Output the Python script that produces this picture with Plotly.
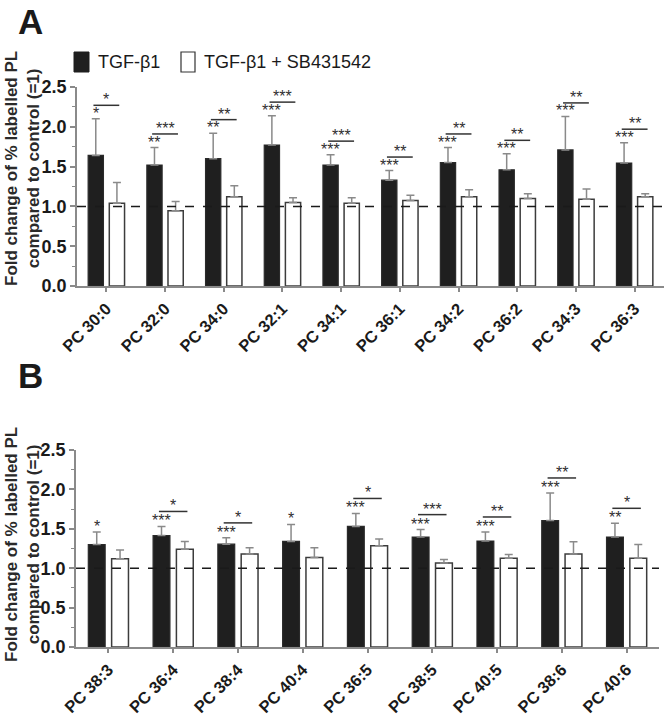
import plotly.graph_objects as go

# ---------------- data ----------------
a_categories = ["PC 30:0", "PC 32:0", "PC 34:0", "PC 32:1", "PC 34:1",
                "PC 36:1", "PC 34:2", "PC 36:2", "PC 34:3", "PC 36:3"]
a_tgf = [1.64, 1.52, 1.60, 1.77, 1.52, 1.33, 1.55, 1.46, 1.71, 1.545]
a_tgf_err = [0.46, 0.22, 0.32, 0.37, 0.13, 0.12, 0.19, 0.20, 0.42, 0.255]
a_sb = [1.04, 0.945, 1.12, 1.05, 1.04, 1.075, 1.12, 1.10, 1.09, 1.12]
a_sb_err = [0.26, 0.115, 0.14, 0.06, 0.07, 0.065, 0.09, 0.06, 0.13, 0.04]
a_sig_tgf = ["*", "**", "**", "***", "***", "***", "***", "***", "***", "***"]
a_sig_pair = ["*", "***", "**", "***", "***", "**", "**", "**", "**", "**"]

b_categories = ["PC 38:3", "PC 36:4", "PC 38:4", "PC 40:4", "PC 36:5",
                "PC 38:5", "PC 40:5", "PC 38:6", "PC 40:6"]
b_tgf = [1.30, 1.415, 1.305, 1.34, 1.53, 1.395, 1.345, 1.605, 1.395]
b_tgf_err = [0.16, 0.115, 0.08, 0.215, 0.165, 0.095, 0.115, 0.35, 0.175]
b_sb = [1.12, 1.24, 1.18, 1.135, 1.285, 1.065, 1.125, 1.18, 1.125]
b_sb_err = [0.11, 0.10, 0.08, 0.125, 0.085, 0.045, 0.05, 0.155, 0.175]
b_sig_tgf = ["*", "***", "***", "*", "***", "***", "***", "***", "**"]
b_sig_pair = ["", "*", "*", "", "*", "***", "**", "**", "*"]

y_ticks = [0.0, 0.5, 1.0, 1.5, 2.0, 2.5]
series_names = ["TGF-β1", "TGF-β1 + SB431542"]
y_title = "Fold change of % labelled PL<br>compared to control (=1)"

# ---------------- style ----------------
FONT = "Liberation Sans, Arial, sans-serif"
W, H = 666, 717
BAR_W = 0.26
OFF_BLACK = -0.31
OFF_WHITE = 0.05
ERR_COLOR = "#8a8a8a"
AXIS_COLOR = "#8a8a8a"
STAR_COLOR = "#303030"

fig = go.Figure()


def px_to_paper_y(py):
    return 1 - py / H


def px_to_paper_x(px):
    return px / W


panels = [
    dict(cats=a_categories, tgf=a_tgf, tgf_err=a_tgf_err, sb=a_sb, sb_err=a_sb_err,
         sig_t=a_sig_tgf, sig_p=a_sig_pair, xa="x", ya="y",
         xdom=[77, 664], ydom=[87, 286], line_off=0.17, title_y=169, letter="A", letter_y=21),
    dict(cats=b_categories, tgf=b_tgf, tgf_err=b_tgf_err, sb=b_sb, sb_err=b_sb_err,
         sig_t=b_sig_tgf, sig_p=b_sig_pair, xa="x2", ya="y2",
         xdom=[76, 659], ydom=[450, 647], line_off=0.19, title_y=545, letter="B", letter_y=375),
]

annotations = []
shapes = []

for i, p in enumerate(panels):
    n = len(p["cats"])
    xs = list(range(n))
    fig.add_trace(go.Bar(
        x=xs, y=p["tgf"], width=BAR_W, offset=OFF_BLACK,
        marker=dict(color="#1f1f1f", line=dict(color="#2a2a2a", width=1.2)),
        error_y=dict(type="data", array=p["tgf_err"], arrayminus=[0] * n, symmetric=False,
                     color=ERR_COLOR, thickness=1.5, width=4),
        xaxis=p["xa"], yaxis=p["ya"], showlegend=False, name=series_names[0]))
    fig.add_trace(go.Bar(
        x=xs, y=p["sb"], width=BAR_W, offset=OFF_WHITE,
        marker=dict(color="white", line=dict(color="#3c3c3c", width=1.5)),
        error_y=dict(type="data", array=p["sb_err"], arrayminus=[0] * n, symmetric=False,
                     color=ERR_COLOR, thickness=1.5, width=4),
        xaxis=p["xa"], yaxis=p["ya"], showlegend=False, name=series_names[1]))

    # dashed reference line at 1
    shapes.append(dict(type="line", xref=p["xa"] + " domain", yref=p["ya"],
                       x0=0, x1=1, y0=1, y1=1, layer="above",
                       line=dict(color="#1a1a1a", width=1.5, dash="dash")))

    cb = OFF_BLACK + BAR_W / 2
    for k in range(n):
        top = p["tgf"][k] + p["tgf_err"][k]
        if p["sig_t"][k]:
            annotations.append(dict(x=k + cb, y=top, xref=p["xa"], yref=p["ya"],
                                    text=p["sig_t"][k], showarrow=False, yanchor="bottom",
                                    yshift=-5, font=dict(family=FONT, size=16, color=STAR_COLOR)))
        if p["sig_p"][k]:
            ly = top + p["line_off"]
            shapes.append(dict(type="line", xref=p["xa"], yref=p["ya"],
                               x0=k - 0.22, x1=k + 0.22, y0=ly, y1=ly,
                               line=dict(color="#333", width=1.5)))
            annotations.append(dict(x=k, y=ly, xref=p["xa"], yref=p["ya"],
                                    text=p["sig_p"][k], showarrow=False, yanchor="bottom",
                                    yshift=-5, font=dict(family=FONT, size=16, color=STAR_COLOR)))

    # y-axis title
    annotations.append(dict(x=px_to_paper_x(22), y=px_to_paper_y(p["title_y"]),
                            xref="paper", yref="paper", text=y_title, textangle=-90,
                            showarrow=False, xanchor="center", yanchor="middle",
                            font=dict(family=FONT, size=17, color="#2a2a2a", weight="bold")))
    # panel letter
    annotations.append(dict(x=px_to_paper_x(17), y=px_to_paper_y(p["letter_y"]),
                            xref="paper", yref="paper", text=p["letter"], showarrow=False,
                            xanchor="left", yanchor="middle", borderpad=0,
                            font=dict(family=FONT, size=35, color="#1a1a1a", weight="bold")))

    axis_common = dict(showline=True, linecolor=AXIS_COLOR, linewidth=1.5,
                       ticks="outside", tickcolor=AXIS_COLOR, tickwidth=1.5,
                       showgrid=False, zeroline=False, automargin=False)
    xkey = "xaxis" if i == 0 else "xaxis2"
    ykey = "yaxis" if i == 0 else "yaxis2"
    fig.update_layout({
        xkey: dict(axis_common, domain=[px_to_paper_x(p["xdom"][0]), px_to_paper_x(p["xdom"][1])],
                   range=[-0.5, n - 0.5], tickvals=xs, ticktext=p["cats"], tickangle=-45,
                   ticklen=4, anchor=p["ya"], ticklabelstandoff=1,
                   tickfont=dict(family=FONT, size=16.5, color="#1a1a1a", weight="bold")),
        ykey: dict(axis_common, domain=[px_to_paper_y(p["ydom"][1]), px_to_paper_y(p["ydom"][0])],
                   range=[0, 2.5], tickvals=y_ticks, tickformat=".1f", ticklen=5,
                   anchor=p["xa"],
                   minor=dict(dtick=0.25, ticks="outside", ticklen=3, tickcolor=AXIS_COLOR,
                              tickwidth=1.2),
                   tickfont=dict(family=FONT, size=18, color="#1a1a1a", weight="bold")),
    })

# custom legend
legend_y0, legend_y1 = 52, 72
shapes.append(dict(type="rect", xref="paper", yref="paper",
                   x0=px_to_paper_x(74), x1=px_to_paper_x(89),
                   y0=px_to_paper_y(legend_y1), y1=px_to_paper_y(legend_y0),
                   fillcolor="#1f1f1f", line=dict(color="#1f1f1f", width=1)))
shapes.append(dict(type="rect", xref="paper", yref="paper",
                   x0=px_to_paper_x(181), x1=px_to_paper_x(195),
                   y0=px_to_paper_y(legend_y1), y1=px_to_paper_y(legend_y0),
                   fillcolor="white", line=dict(color="#333", width=1.2)))
annotations.append(dict(x=px_to_paper_x(96), y=px_to_paper_y(62), xref="paper", yref="paper",
                        text=series_names[0], showarrow=False, xanchor="left", yanchor="middle",
                        font=dict(family=FONT, size=18, color="#1a1a1a")))
annotations.append(dict(x=px_to_paper_x(202), y=px_to_paper_y(62), xref="paper", yref="paper",
                        text=series_names[1], showarrow=False, xanchor="left", yanchor="middle",
                        font=dict(family=FONT, size=18, color="#1a1a1a")))

fig.update_layout(width=W, height=H, margin=dict(l=0, r=0, t=0, b=0),
                  plot_bgcolor="white", paper_bgcolor="white",
                  shapes=shapes, annotations=annotations, showlegend=False,
                  font=dict(family=FONT))

fig.write_html("out.html", config={"displayModeBar": False},
               post_script="document.body.style.margin='0';document.body.style.overflow='hidden';")
